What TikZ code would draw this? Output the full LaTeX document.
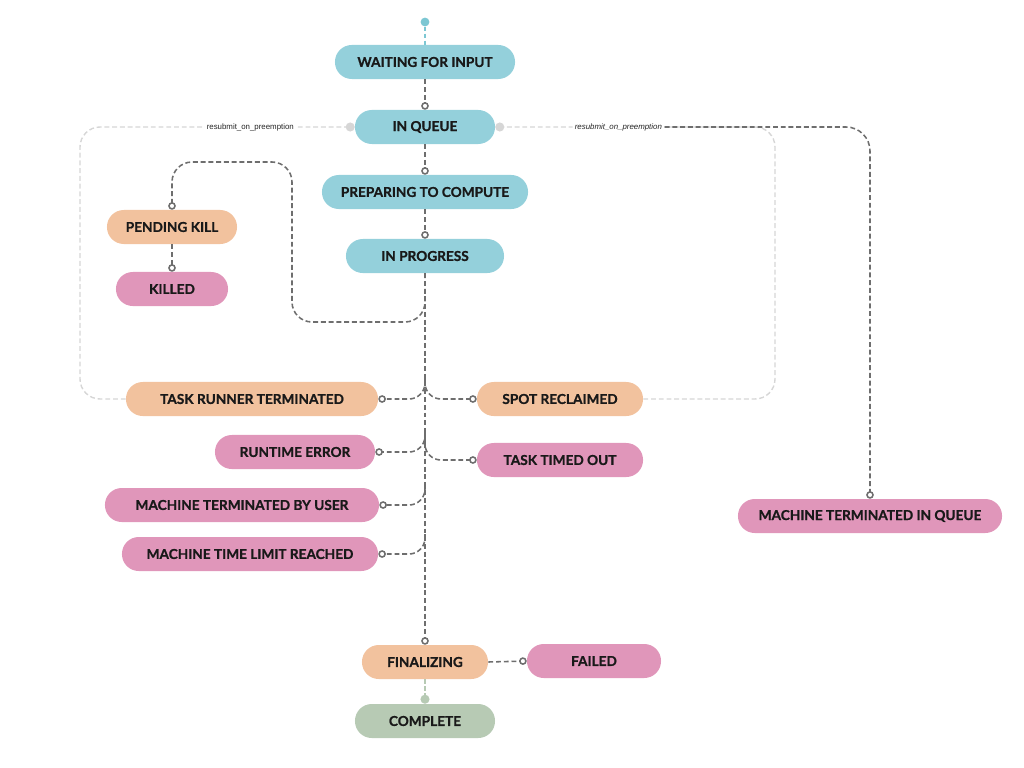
\documentclass[tikz,border=0pt]{standalone}
\usepackage{fontspec}
\setmainfont{Lato}[BoldFeatures={FakeBold=0.9}]
\newfontfamily\lblfont{Liberation Sans}
\usetikzlibrary{arrows.meta,calc}

\definecolor{cyanbox}{HTML}{94D0DB}
\definecolor{cyandot}{HTML}{7CC7D3}
\definecolor{peachbox}{HTML}{F2C29E}
\definecolor{pinkbox}{HTML}{E096BA}
\definecolor{greenbox}{HTML}{B7CAB4}
\definecolor{flowgray}{HTML}{6E6E6E}
\definecolor{resubgray}{HTML}{D6D6D6}

\begin{document}
\begin{tikzpicture}[x=0.025cm,y=-0.025cm,
  stage/.style={rectangle, rounded corners=0.42cm, minimum height=0.85cm, inner sep=0pt,
    font=\bfseries\fontsize{9.7}{11}\selectfont, text=black!90},
  flow/.style={draw=flowgray, line width=1.1pt, dash pattern=on 3.5pt off 2pt,
    -{Circle[open,length=5.4pt,width=5.4pt,line width=1.1pt]}},
  resub/.style={draw=resubgray, line width=1pt, dash pattern=on 3.5pt off 2pt,
    -{Circle[length=6.4pt,width=6.4pt]}},
  lbl/.style={fill=white, inner sep=1.5pt, font=\lblfont\fontsize{5.6}{6}\selectfont, text=black!85}]
  \useasboundingbox (0,0) rectangle (1024,768);

  % states
  \node[circle, fill=cyandot, inner sep=0pt, minimum size=0.22cm] (start) at (425,22) {};
  \node[stage, fill=cyanbox, minimum width=4.5cm] (waiting) at (425,62) {WAITING FOR INPUT};
  \node[stage, fill=cyanbox, minimum width=3.5cm] (inqueue) at (425,127) {IN QUEUE};
  \node[stage, fill=cyanbox, minimum width=5.15cm] (preparing) at (425,192) {PREPARING TO COMPUTE};
  \node[stage, fill=cyanbox, minimum width=3.95cm] (inprogress) at (425,256) {IN PROGRESS};
  \node[stage, fill=peachbox, minimum width=3.25cm] (pendingkill) at (172,227) {PENDING KILL};
  \node[stage, fill=pinkbox, minimum width=2.8cm] (killed) at (172,289) {KILLED};
  \node[stage, fill=peachbox, minimum width=6.3cm] (taskrunner) at (252,399) {TASK RUNNER TERMINATED};
  \node[stage, fill=peachbox, minimum width=4.15cm] (spot) at (560,399) {SPOT RECLAIMED};
  \node[stage, fill=pinkbox, minimum width=4.0cm] (runtime) at (295,452) {RUNTIME ERROR};
  \node[stage, fill=pinkbox, minimum width=4.15cm] (timedout) at (560,460) {TASK TIMED OUT};
  \node[stage, fill=pinkbox, minimum width=6.85cm] (byuser) at (242,505) {MACHINE TERMINATED BY USER};
  \node[stage, fill=pinkbox, minimum width=6.4cm] (timelimit) at (250,554) {MACHINE TIME LIMIT REACHED};
  \node[stage, fill=pinkbox, minimum width=6.6cm] (queuekill) at (870,516) {MACHINE TERMINATED IN QUEUE};
  \node[stage, fill=peachbox, minimum width=3.15cm] (finalizing) at (425,662) {FINALIZING};
  \node[stage, fill=pinkbox, minimum width=3.35cm] (failed) at (594,661) {FAILED};
  \node[stage, fill=greenbox, minimum width=3.5cm] (complete) at (425,721) {COMPLETE};

  % main line
  \draw[draw=cyandot, line width=0.8pt, dash pattern=on 3pt off 2pt] (start) -- (waiting.north);
  \draw[flow] (waiting.south) -- (inqueue.north);
  \draw[flow] (inqueue.south) -- (preparing.north);
  \draw[flow] (preparing.south) -- (inprogress.north);
  \draw[flow] (inprogress.south) -- (finalizing.north);
  \draw[flow, rounded corners=0.5cm] (inprogress.south) |- (292,322) |- (172,162) -- (pendingkill.north);
  \draw[flow] (pendingkill.south) -- (killed.north);
  \foreach \n in {taskrunner,runtime,byuser,timelimit}
    \draw[flow, rounded corners=0.4cm] ($(inprogress.south |- \n.east)+(0,-20)$) |- (\n.east);
  \foreach \n in {spot,timedout}
    \draw[flow, rounded corners=0.4cm] ($(inprogress.south |- \n.west)+(0,-20)$) |- (\n.west);
  \draw[flow] (finalizing.east) -- (failed.west);
  \draw[draw=greenbox, line width=1pt, dash pattern=on 3pt off 2pt, -{Circle[length=6.4pt,width=6.4pt]}]
    (finalizing.south) -- (complete.north);

  % resubmit loops
  \draw[resub, rounded corners=0.5cm] (taskrunner.west) -| (80,127)
    -- node[lbl, pos=0.62] {resubmit\_on\_preemption} (inqueue.west);
  \draw[resub, rounded corners=0.5cm] (spot.east) -| (775,127)
    -- node[lbl, pos=0.56] (rlbl) {\itshape resubmit\_on\_preemption} (inqueue.east);
  \draw[flow, rounded corners=0.6cm] (rlbl.east) -| (queuekill.north);
\end{tikzpicture}
\end{document}
